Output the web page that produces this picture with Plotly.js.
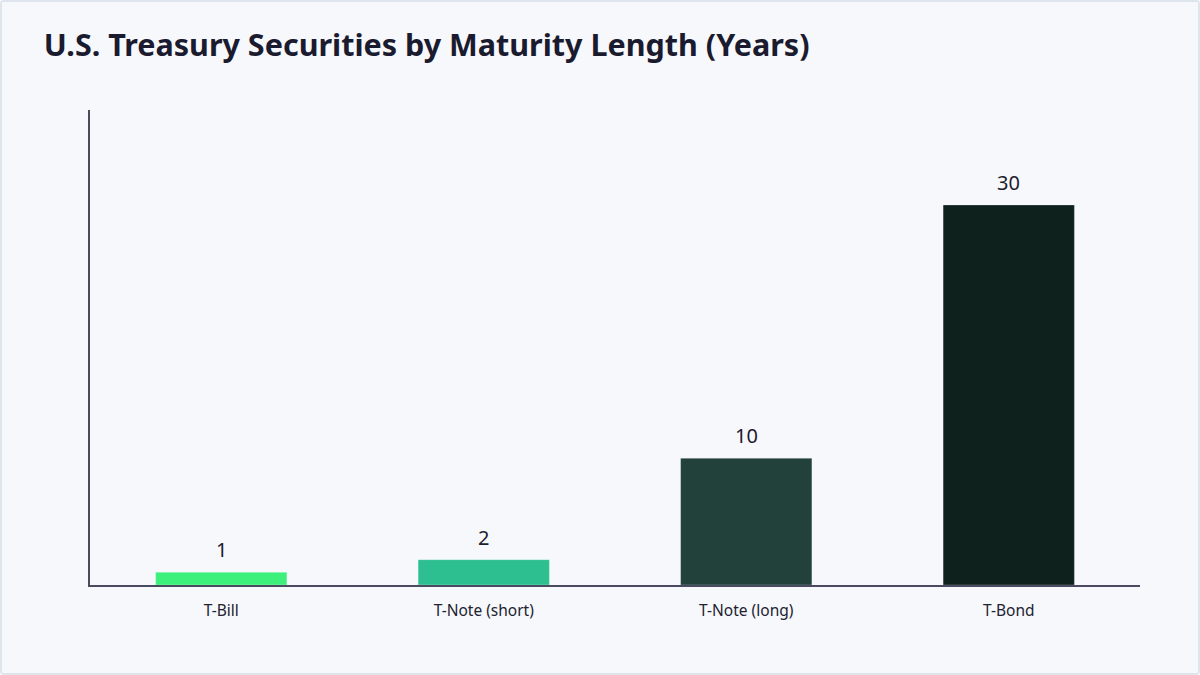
<!DOCTYPE html>
<html>
<head>
<meta charset="utf-8">
<script src="https://cdn.plot.ly/plotly-3.0.1.min.js"></script>
<style>
    html, body { margin: 0; padding: 0; background: #f7f8fc; }
    #chart { width: 1200px; height: 675px; box-sizing: border-box; border: 2px solid #dfe5ec; border-radius: 4px; overflow: hidden; }
</style>
</head>
<body>
<div id="chart"></div>
<script>
const categories = ['T-Bill', 'T-Note (short)', 'T-Note (long)', 'T-Bond'];
const maturityYears = [1, 2, 10, 30];
const barColors = ['#3def7b', '#2dbf8f', '#21413a', '#0e211d'];

const font = '"Noto Sans", "Noto Sans CJK KR", sans-serif';

// value labels above each bar
const labels = categories.map((c, i) => ({
    x: c,
    y: maturityYears[i],
    text: String(maturityYears[i]),
    showarrow: false,
    yanchor: 'bottom',
    yshift: 7,
    font: { family: font, size: 20, color: '#1c1c2c' }
}));

Plotly.newPlot('chart', [{
    type: 'bar',
    x: categories,
    y: maturityYears,
    marker: {
        color: barColors,
        line: { color: 'rgba(255,255,255,0.25)', width: 1 }
    },
    hoverinfo: 'x+y'
}], {
    width: 1196,
    height: 671,
    margin: { l: 88, r: 58, t: 108, b: 88 },
    paper_bgcolor: '#f7f8fc',
    plot_bgcolor: '#f7f8fc',
    bargap: 0.5,
    showlegend: false,
    title: {
        text: '<b>U.S. Treasury Securities by Maturity Length (Years)</b>',
        font: { family: font, size: 30.5, color: '#1b1b2f' },
        x: 0.035, xanchor: 'left',
        y: 0.935, yanchor: 'middle'
    },
    xaxis: {
        showline: true,
        linecolor: '#4a4a60',
        linewidth: 2,
        ticks: '',
        ticklabelstandoff: 10,
        tickfont: { family: font, size: 15.5, color: '#222230' },
        showgrid: false,
        zeroline: false
    },
    yaxis: {
        range: [0, 37.5],
        showline: true,
        linecolor: '#4a4a60',
        linewidth: 2,
        showticklabels: false,
        ticks: '',
        showgrid: false,
        zeroline: false
    },
    annotations: labels
}, { displayModeBar: false, staticPlot: true });
</script>
</body>
</html>
